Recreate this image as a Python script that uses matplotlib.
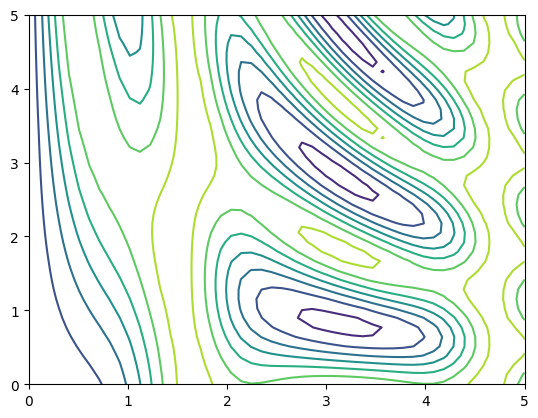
import numpy as np
import matplotlib
matplotlib.use("Agg")
import matplotlib.pyplot as plt

# grid the field is sampled on
x_vals = np.linspace(0, 5, 50)
y_vals = np.linspace(0, 5, 40)


def f(x, y):
    return np.sin(x) ** 10 + np.cos(10 + y * x) * np.cos(x)


X, Y = np.meshgrid(x_vals, y_vals)
Z = f(X, Y)

fig, ax = plt.subplots(figsize=(6.4, 4.8))
ax.contour(X, Y, Z)

fig.savefig("out.png", dpi=100, bbox_inches="tight")
